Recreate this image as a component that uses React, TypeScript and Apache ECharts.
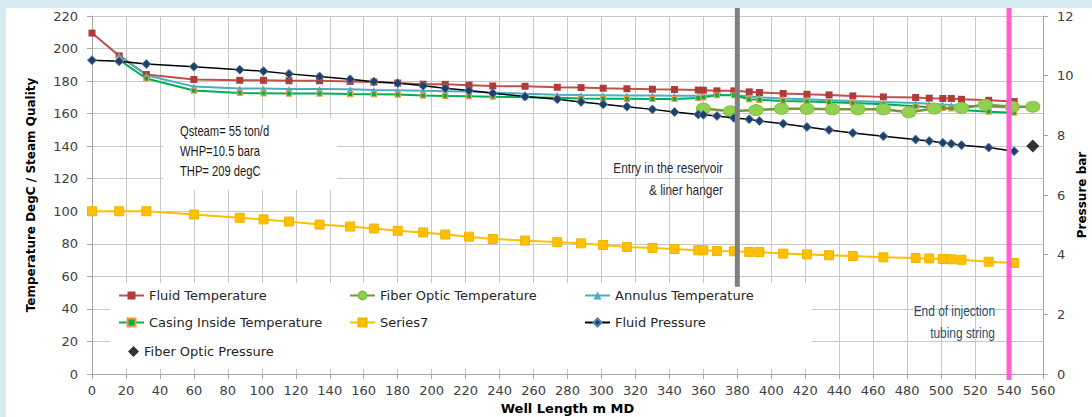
import React, { useEffect, useRef } from "react";
import * as echarts from "echarts";

// ---- data ----
const depth = [0, 16, 32, 60, 87, 101, 116, 134, 152, 166, 180, 195, 208, 222, 236, 255, 274, 288, 301, 315, 330, 343, 357, 360, 368, 378, 387, 393, 407, 421, 434, 448, 466, 485, 493, 501, 506, 512, 528, 543];
const fluidTemperature = [209.5, 195.5, 184, 181, 180.5, 180.5, 180.2, 180.2, 179.8, 179.4, 178.8, 178.1, 178, 177.5, 177, 176.8, 176.2, 176, 175.6, 175.3, 175, 174.8, 174.5, 174.4, 174, 174, 173.4, 173, 172.4, 171.9, 171.5, 170.9, 170.3, 169.9, 169.5, 169.3, 169.3, 168.8, 168.2, 167.4];
// annulus & casing start at the second depth (16 m)
const annulusTemperature = [196, 183.6, 176.6, 175.4, 175.4, 175.2, 175.2, 175, 174.6, 174.4, 174, 173.8, 173.6, 173, 172.2, 171.6, 171.4, 171.3, 171.2, 171.1, 171, 171, 171, 171.5, 171.5, 170.5, 170, 169.3, 168.8, 168.3, 167.8, 167.2, 166.5, 166, 165.6, 165.3, 165, 164.3, 163.7];
const casingInsideTemperature = [193, 181.6, 174.2, 172.7, 172.5, 172.3, 172.3, 172, 171.9, 171.7, 171.1, 170.9, 170.7, 170.4, 170.1, 169.7, 169.3, 169.2, 169.1, 169, 169, 169.6, 170, 171.3, 171.3, 168.8, 168.5, 167.8, 167.4, 167, 166.5, 165.8, 164.5, 164, 163.5, 163.2, 162.3, 161.2, 160.6];
const series7 = [100, 100, 100, 98, 96, 95, 93.7, 91.8, 90.6, 89.4, 88, 87, 85.7, 84.4, 83, 82, 81, 80.3, 79.3, 78, 77.5, 76.8, 76, 76, 75.6, 75.4, 75, 75, 74, 73.5, 73, 72.5, 71.7, 71.3, 71, 70.7, 70.5, 70.2, 69, 68.2];
const fluidPressure = [10.52, 10.48, 10.39, 10.3, 10.2, 10.15, 10.06, 9.97, 9.88, 9.8, 9.75, 9.66, 9.58, 9.5, 9.41, 9.3, 9.21, 9.12, 9.04, 8.96, 8.87, 8.78, 8.7, 8.69, 8.65, 8.58, 8.54, 8.48, 8.39, 8.28, 8.18, 8.08, 7.97, 7.86, 7.81, 7.75, 7.72, 7.67, 7.59, 7.47];
const fiberOpticDepth = [360, 376, 391, 406, 421, 436, 451, 466, 481, 496, 512, 526, 542, 554];
const fiberOpticTemperature = [163.1, 161.5, 162.2, 163, 163, 162.7, 162.7, 162.7, 160.8, 163.1, 163.5, 165.5, 164.3, 164.3];
const fiberOpticPressure: [number, number][] = [[554, 7.64]];

const reservoirEntryDepth = 380;
const reservoirLineSpan = [225.5, 53.6];
const tubingEndDepth = 540;
const tubingLineSpan = [225.5, -3.7];

const xTicks = { min: 0, max: 560, interval: 20 };
const yLeftTicks = { min: 0, max: 220, interval: 20 };
const yRightTicks = { min: 0, max: 12, interval: 2 };

const notes = ["Qsteam= 55 ton/d", "WHP=10.5 bara", "THP= 209 degC"];
const entryNote = ["Entry in the reservoir", "& liner hanger"];
const endNote = ["End of injection", "tubing string"];
const rightAxisTitle = "Pressure bar";

const OX = 6;
const OY = 8;
const W = 1092 - OX;
const H = 417 - OY;

const pair = (xs: number[], ys: number[]) => ys.map((y, i) => [xs[i], y]);

export default function App() {
  const ref = useRef<HTMLDivElement>(null);
  useEffect(() => {
    if (!ref.current) return;
    const chart = echarts.init(ref.current, undefined, { renderer: "svg" });
    const font = "'DejaVu Sans', Verdana, sans-serif";
    const narrow = "'Liberation Sans', Arial, sans-serif";
    const gridColor = "#c8c8c8";
    const axisColor = "#a6a6a6";
    const labelStyle = { color: "#404040", fontFamily: font, fontSize: 13 };

    const noteText = (lines: string[], x: number, ys: number[], align: string, color: string, sx: number) =>
      lines.map((t, i) => ({
        type: "text",
        x: x - OX,
        y: ys[i] - OY,
        scaleX: sx,
        z: 10,
        style: { text: t, fill: color, font: `14px ${narrow}`, textAlign: align, textVerticalAlign: "middle" },
      }));

    const legendBase = {
      top: 289 - OY, orient: "vertical", itemGap: 14, itemWidth: 25, itemHeight: 10, padding: 0,
      textStyle: { fontFamily: font, fontSize: 13, color: "#262626" },
    };

    const option: any = {
      animation: false,
      backgroundColor: "#ffffff",
      grid: {
        left: 92 - OX, top: 16 - OY, right: W - (1043 - OX), bottom: H - (374 - OY),
        containLabel: false, outerBoundsMode: "none",
      },
      xAxis: {
        type: "value",
        ...xTicks,
        name: "Well Length m MD",
        nameLocation: "middle",
        nameGap: 28,
        nameTextStyle: { fontFamily: font, fontSize: 13, fontWeight: "bold", color: "#000" },
        axisLine: { show: true, lineStyle: { color: axisColor } },
        axisTick: { show: true, length: 5, lineStyle: { color: axisColor } },
        axisLabel: { ...labelStyle, margin: 10 },
        splitLine: { show: true, lineStyle: { color: gridColor, width: 1 } },
      },
      yAxis: [
        {
          type: "value",
          ...yLeftTicks,
          name: "Temperature DegC / Steam Quality",
          nameLocation: "middle",
          nameGap: 55,
          nameTextStyle: { fontFamily: font, fontSize: 12, fontWeight: "bold", color: "#000" },
          axisLine: { show: true, lineStyle: { color: axisColor } },
          axisTick: { show: true, length: 5, lineStyle: { color: axisColor } },
          axisLabel: { ...labelStyle, margin: 14 },
          splitLine: { show: true, lineStyle: { color: gridColor, width: 1 } },
        },
        {
          type: "value",
          ...yRightTicks,
          position: "right",
          axisLine: { show: true, lineStyle: { color: axisColor } },
          axisTick: { show: true, length: 5, lineStyle: { color: axisColor } },
          axisLabel: { ...labelStyle, margin: 14 },
          splitLine: { show: false },
        },
      ],
      legend: [
        { ...legendBase, left: 118 - OX, data: ["Fluid Temperature", "Casing Inside Temperature"] },
        { ...legendBase, left: 128 - OX, top: 345 - OY, itemWidth: 11, itemHeight: 11, data: ["Fiber Optic Pressure"] },
        { ...legendBase, left: 349 - OX, data: ["Fiber Optic Temperature", "Series7"] },
        { ...legendBase, left: 584 - OX, data: ["Annulus Temperature", "Fluid Pressure"] },
      ],
      graphic: [
        { type: "rect", z: 1, shape: { x: 110 - OX, y: 283 - OY, width: 702, height: 86 }, style: { fill: "#ffffff" }, silent: true },
        { type: "rect", z: 1, shape: { x: 163 - OX, y: 118 - OY, width: 174, height: 72 }, style: { fill: "#ffffff" }, silent: true },
        ...noteText(notes, 180, [131.5, 151.5, 171.5], "left", "#1a1a1a", 0.8),
        ...noteText(entryNote, 723, [168, 190], "right", "#2b2b3a", 0.85),
        ...noteText(endNote, 995, [311.5, 333.5], "right", "#1f4e6e", 0.85),
        {
          type: "text", x: 1082 - OX, y: 195 - OY, rotation: Math.PI / 2, z: 10,
          style: { text: rightAxisTitle, fill: "#000", font: `bold 12px ${font}`, textAlign: "center", textVerticalAlign: "middle" },
        },
      ],
      series: [
        {
          name: "Fluid Temperature", type: "line", data: pair(depth, fluidTemperature),
          symbol: "rect", symbolSize: 7, lineStyle: { color: "#c0504d", width: 2 },
          itemStyle: { color: "#b03c39" }, z: 3,
        },
        {
          name: "Fiber Optic Temperature", type: "line", data: pair(fiberOpticDepth, fiberOpticTemperature),
          symbol: "circle", symbolSize: [14, 11], lineStyle: { color: "#77933c", width: 2.5 },
          itemStyle: { color: "#92d050", borderColor: "#86c044", borderWidth: 1 }, z: 4,
        },
        {
          name: "Annulus Temperature", type: "line", data: pair(depth.slice(1), annulusTemperature),
          symbol: "triangle", symbolSize: 6, lineStyle: { color: "#4bacc6", width: 2 },
          itemStyle: { color: "#4bacc6" }, z: 3,
        },
        {
          name: "Casing Inside Temperature", type: "line", data: pair(depth.slice(1), casingInsideTemperature),
          symbol: "rect", symbolSize: 5, lineStyle: { color: "#00b050", width: 2 },
          itemStyle: { color: "#00b050", borderColor: "#f79646", borderWidth: 1.2 }, z: 3,
        },
        {
          name: "Series7", type: "line", data: pair(depth, series7),
          symbol: "rect", symbolSize: 9, lineStyle: { color: "#ffc000", width: 2 },
          itemStyle: { color: "#ffc000", borderColor: "#f0b400", borderWidth: 1 }, z: 3,
        },
        {
          name: "Fluid Pressure", type: "line", yAxisIndex: 1, data: pair(depth, fluidPressure),
          symbol: "diamond", symbolSize: 9, lineStyle: { color: "#000000", width: 1.5 },
          itemStyle: { color: "#243f60", borderColor: "#4f81bd", borderWidth: 1 }, z: 5,
        },
        {
          name: "Fiber Optic Pressure", type: "scatter", yAxisIndex: 1, data: fiberOpticPressure,
          symbol: "diamond", symbolSize: 13, itemStyle: { color: "#000000" }, z: 5,
        },
        {
          name: "reservoir-entry", type: "line", silent: true, clip: false, symbol: "none",
          data: reservoirLineSpan.map((v) => [reservoirEntryDepth, v]),
          lineStyle: { color: "#808080", width: 5 }, z: 6,
        },
        {
          name: "tubing-end", type: "line", silent: true, clip: false, symbol: "none",
          data: tubingLineSpan.map((v) => [tubingEndDepth, v]),
          lineStyle: { color: "#ff5fd2", width: 5 }, z: 6,
        },
      ],
    };
    chart.setOption(option);
    return () => chart.dispose();
  }, []);

  return (
    <div style={{ position: "fixed", left: 0, top: 0, width: 1092, height: 417, background: "#d6ebf1", overflow: "hidden" }}>
      <div ref={ref} style={{ position: "absolute", left: OX, top: OY, width: W, height: H, background: "#ffffff" }} />
    </div>
  );
}
